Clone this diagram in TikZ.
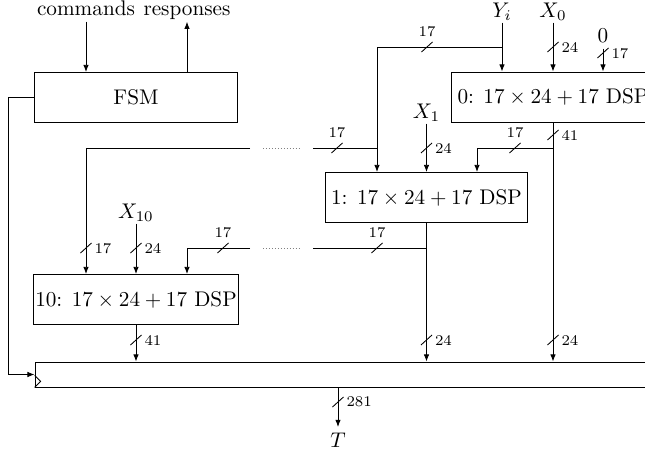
\documentclass[tikz,border=0pt]{standalone}
\usetikzlibrary{arrows.meta}
\tikzset{
  blk/.style={draw, minimum width=95.6pt, minimum height=23.6pt, inner sep=1pt},
  regbox/.style={draw, minimum width=316pt, minimum height=11.8pt, inner sep=0pt},
  lbl/.style={inner sep=2.5pt, text depth=0pt},
  wlab/.style={font=\scriptsize, inner sep=1pt, text depth=0pt},
  dotseg/.style={densely dotted, gray},
  arr/.style={-{Latex[length=3.4pt,width=2.6pt]}},
  bus/.pic={\draw (-5.5,5) -- (5.5,-5);}
}
\begin{document}
\begin{tikzpicture}[x=0.4717pt, y=-0.4717pt]
\useasboundingbox (0,0) rectangle (645,449);

% blocks
\node[blk] (fsm) at (136,97.5) {FSM};
\node[blk] (d0) at (553,97) {0: $17\times24+17$ DSP};
\node[blk] (d1) at (426.5,197.5) {1: $17\times24+17$ DSP};
\node[blk] (d10) at (136,299.5) {10: $17\times24+17$ DSP};
\node[regbox] (reg) at (370,374.5) {};

% input / output labels
\node[lbl, anchor=base] (cmd) at (86,16) {commands};
\node[lbl, anchor=base] (resp) at (187,16) {responses};
\node[lbl, anchor=base] (yi) at (502,17) {$Y_i$};
\node[lbl, anchor=base] (x0) at (553,17) {$X_0$};
\node[lbl, anchor=base] (zero) at (603,43) {$0$};
\node[lbl, anchor=base] (x1) at (426.5,118) {$X_1$};
\node[lbl, anchor=base] (x10) at (136,218) {$X_{10}$};
\node[lbl, anchor=north] (t) at (338,427) {$T$};

% FSM
\draw[arr] (cmd.south) -- (cmd.south |- fsm.north);
\draw[arr] (resp.south |- fsm.north) -- (resp.south);
\draw[arr] (fsm.west) -- ++(-26,0) |- (reg.west);
\draw (reg.south west) -- ++(6,-6) -- ++(-6,-6);

% DSP 0 inputs
\draw[arr] (yi.south) -- (yi.south |- d0.north);
\coordinate (ybr) at (yi.south |- 0,47);
\draw[arr] (ybr) -| (377,0 |- d1.north);
\pic at (427,47) {bus}; \node[wlab, anchor=south] (w1) at (427,39) {17};
\draw[arr] (x0.south) -- (x0.south |- d0.north);
\pic at (553,47) {bus}; \node[wlab, anchor=west] (w2) at (559,47) {24};
\draw[arr] (zero.south) -- (zero.south |- d0.north);
\pic at (603,53) {bus}; \node[wlab, anchor=west] (w3) at (609,53) {17};

% DSP 0 output
\draw[arr] (d0.south) -- (d0.south |- reg.north);
\pic at (553,135) {bus}; \node[wlab, anchor=west] (w4) at (559,135) {41};
\pic at (553,340) {bus}; \node[wlab, anchor=west] (w5) at (559,340) {24};
\coordinate (d0br) at (d0.south |- 0,148);
\draw[arr] (d0br) -| (477,0 |- d1.north);
\pic at (515,148) {bus}; \node[wlab, anchor=south] (w6) at (515,140) {17};

% DSP 1 inputs
\draw[arr] (x1.south) -- (x1.south |- d1.north);
\pic at (426.5,148) {bus}; \node[wlab, anchor=west] (w7) at (432.5,148) {24};
\coordinate (ychain) at (377,148);
\draw (ychain) -- (313,148);
\pic at (337,148) {bus}; \node[wlab, anchor=south] (w8) at (337,140) {17};
\draw[dotseg] (263,148) -- (301,148);
\draw[arr] (250,148) -| (86,0 |- d10.north);
\pic at (86,248) {bus}; \node[wlab, anchor=west] (w9) at (92,248) {17};

% DSP 1 output
\draw[arr] (d1.south) -- (d1.south |- reg.north);
\pic at (426.5,340) {bus}; \node[wlab, anchor=west] (w10) at (432.5,340) {24};
\coordinate (d1br) at (d1.south |- 0,248);
\draw (d1br) -- (313,248);
\pic at (377,248) {bus}; \node[wlab, anchor=south] (w11) at (377,240) {17};
\draw[dotseg] (263,248) -- (301,248);
\draw[arr] (250,248) -| (187,0 |- d10.north);
\pic at (223,248) {bus}; \node[wlab, anchor=south] (w12) at (223,240) {17};

% DSP 10
\draw[arr] (x10.south) -- (x10.south |- d10.north);
\pic at (136,248) {bus}; \node[wlab, anchor=west] (w13) at (142,248) {24};
\draw[arr] (d10.south) -- (d10.south |- reg.north);
\pic at (136,340) {bus}; \node[wlab, anchor=west] (w14) at (142,340) {41};

% register output
\draw[arr] (338,0 |- reg.south) -- (t.north);
\pic at (338,402) {bus}; \node[wlab, anchor=west] (w15) at (344,402) {281};
\end{tikzpicture}
\end{document}
